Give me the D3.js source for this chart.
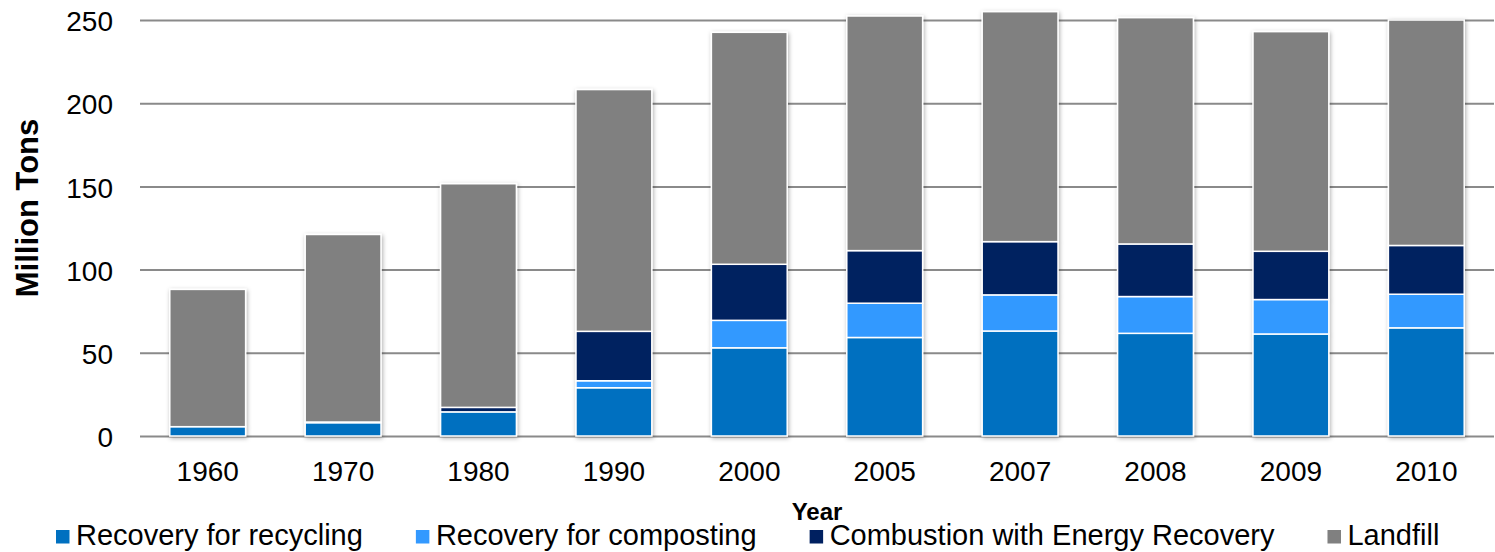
<!DOCTYPE html>
<html>
<head>
<meta charset="utf-8">
<script src="https://cdn.jsdelivr.net/npm/d3@7"></script>
<style>
  html, body { margin: 0; padding: 0; background: #fff; }
  svg { display: block; font-family: "Liberation Sans", Arial, sans-serif; }
</style>
</head>
<body>
<svg id="chart" width="1495" height="552"></svg>
<script>
// Municipal solid waste management, million tons
const years = ["1960", "1970", "1980", "1990", "2000", "2005", "2007", "2008", "2009", "2010"];
const recycling  = [5.6, 8.0, 14.5, 29.0, 53.0, 59.2, 63.1, 61.7, 61.3, 65.0];
const composting = [0.0, 0.0, 0.0, 4.2, 16.5, 20.6, 21.7, 22.1, 20.7, 20.2];
const combustion = [0.0, 0.4, 2.7, 29.7, 33.7, 31.6, 32.0, 31.6, 29.0, 29.3];
const landfill   = [82.5, 112.7, 134.4, 145.3, 139.4, 141.0, 138.2, 136.0, 132.0, 135.5];
const seriesNames = ["Recovery for recycling", "Recovery for composting", "Combustion with Energy Recovery", "Landfill"];
const yTicks = [0, 50, 100, 150, 200, 250];

const colors = ["#0070C0", "#3399FF", "#002060", "#808080"];
const keys = ["recycling", "composting", "combustion", "landfill"];

const rows = years.map((y, i) => ({
  year: y,
  recycling: recycling[i],
  composting: composting[i],
  combustion: combustion[i],
  landfill: landfill[i]
}));

const svg = d3.select("#chart");
const plot = { left: 140, right: 1494, top: 20, bottom: 436 };

const x = d3.scaleBand()
  .domain(years)
  .range([plot.left, plot.right])
  .paddingInner(0.44)
  .paddingOuter(0.22);

const y = d3.scaleLinear()
  .domain([0, 250])
  .range([plot.bottom, plot.top]);

// soft shadow around each column
const defs = svg.append("defs");
const f = defs.append("filter").attr("id", "shadow")
  .attr("x", "-20%").attr("y", "-5%").attr("width", "140%").attr("height", "110%");
f.append("feDropShadow")
  .attr("dx", 1).attr("dy", 1.5).attr("stdDeviation", 2.2)
  .attr("flood-color", "#000").attr("flood-opacity", 0.32);

// gridlines + value labels
const yAxis = svg.append("g")
  .attr("transform", `translate(${plot.left},0)`)
  .call(d3.axisLeft(y).tickValues(yTicks)
    .tickSize(-(plot.right - plot.left))
    .tickPadding(27));
yAxis.select(".domain").remove();
yAxis.selectAll(".tick line").attr("stroke", "#8a8a8a").attr("stroke-width", 2);
yAxis.selectAll(".tick text")
  .attr("font-size", 28).attr("fill", "#000").attr("dy", "0.38em");

// stacked columns
const stack = d3.stack().keys(keys)(rows);
const cols = svg.append("g").selectAll("g.col")
  .data(rows)
  .join("g")
  .attr("class", "col")
  .attr("filter", "url(#shadow)");

cols.selectAll("rect")
  .data(d => stack.map((s, k) => ({ k, seg: s.find(p => p.data.year === d.year), year: d.year })))
  .join("rect")
  .filter(d => d.seg[1] - d.seg[0] > 0)
  .attr("x", d => x(d.year))
  .attr("width", x.bandwidth())
  .attr("y", d => y(d.seg[1]))
  .attr("height", d => y(d.seg[0]) - y(d.seg[1]))
  .attr("fill", d => colors[d.k])
  .attr("stroke", "#fff")
  .attr("stroke-width", 1.5);

// category labels
const xAxis = svg.append("g")
  .attr("transform", `translate(0,${plot.bottom})`)
  .call(d3.axisBottom(x).tickSize(0).tickPadding(25));
xAxis.select(".domain").remove();
xAxis.selectAll(".tick text").attr("font-size", 28).attr("fill", "#000");

// axis titles
svg.append("text")
  .attr("transform", "translate(38,208) rotate(-90)")
  .attr("text-anchor", "middle")
  .attr("font-size", 31).attr("font-weight", "bold").attr("fill", "#000")
  .text("Million Tons");

svg.append("text")
  .attr("x", (plot.left + plot.right) / 2).attr("y", 520)
  .attr("text-anchor", "middle")
  .attr("font-size", 24).attr("font-weight", "bold").attr("fill", "#000")
  .text("Year");

// legend, laid out left to right
const legend = svg.append("g");
let lx = 56;
seriesNames.forEach((name, i) => {
  const g = legend.append("g").attr("transform", `translate(${lx},0)`);
  g.append("rect").attr("x", 0).attr("y", 530).attr("width", 13.5).attr("height", 13.5)
    .attr("fill", colors[i]);
  const t = g.append("text").attr("x", 20).attr("y", 545)
    .attr("font-size", 29).attr("fill", "#000").text(name);
  lx += 20 + t.node().getComputedTextLength() + 53;
});
</script>
</body>
</html>
